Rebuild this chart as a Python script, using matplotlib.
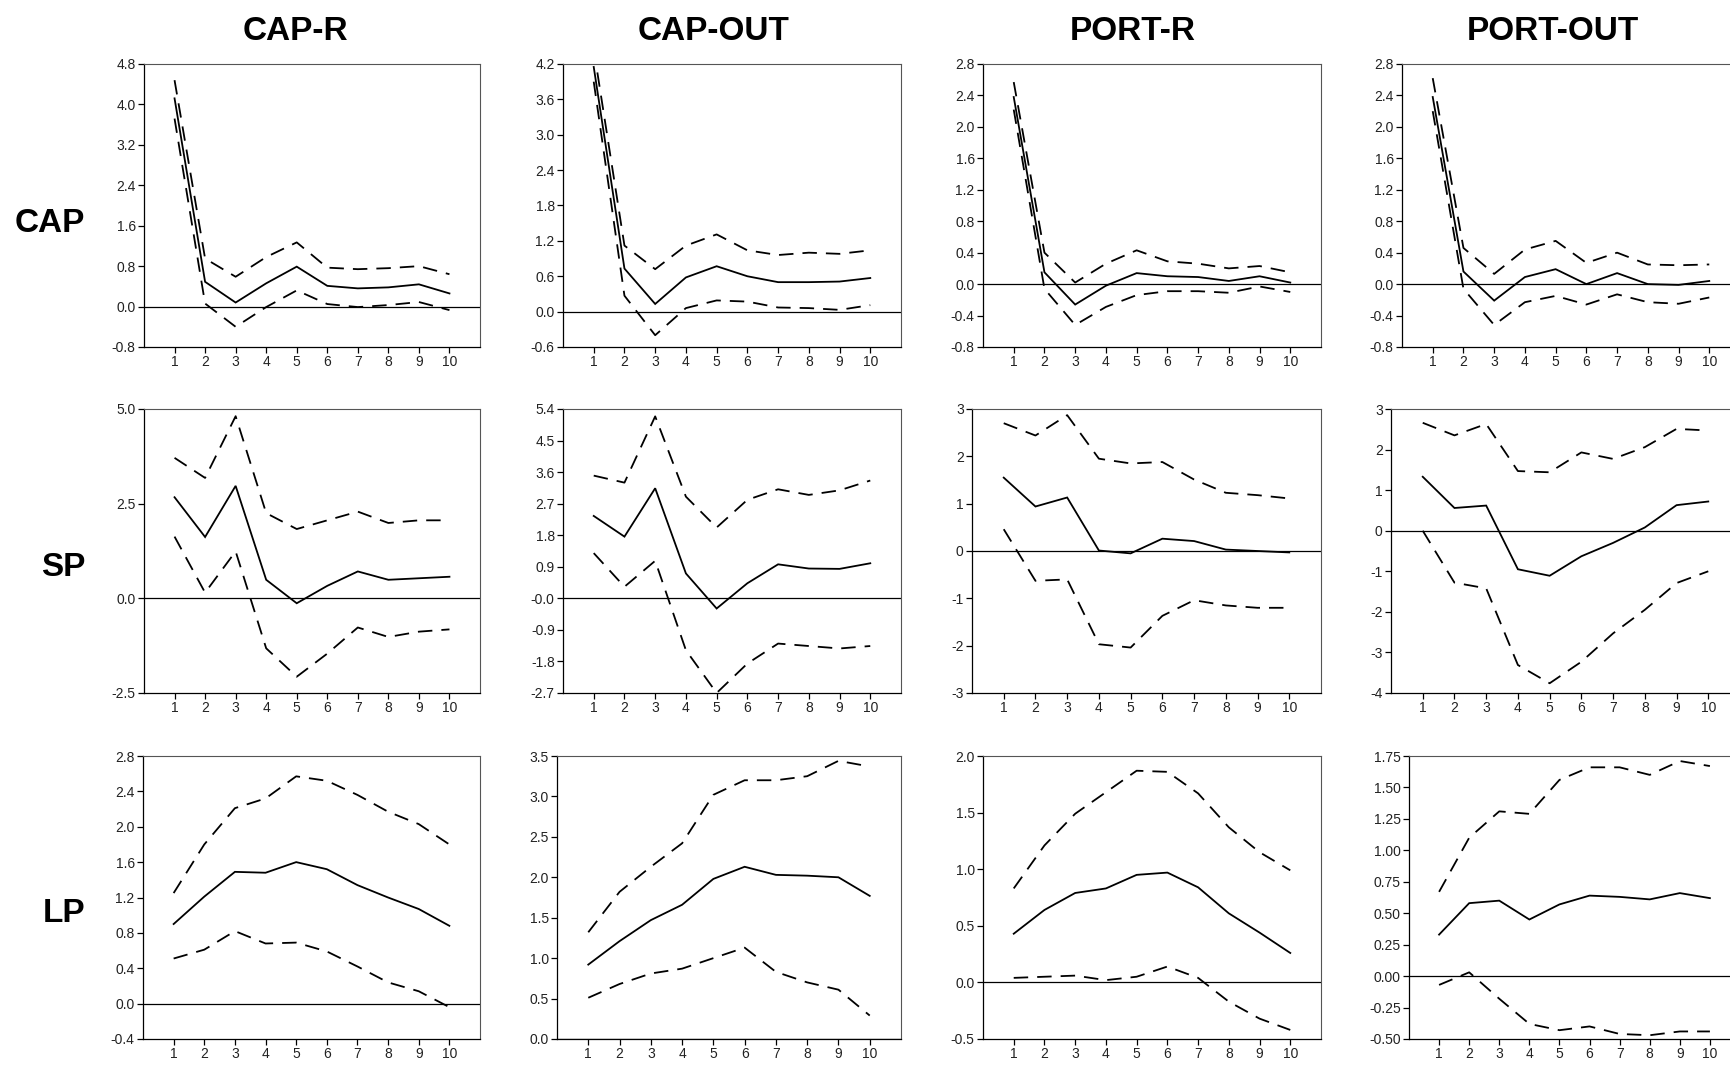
import matplotlib
matplotlib.use("Agg")
import matplotlib.pyplot as plt

plt.rcParams['font.family'] = ['Liberation Sans', 'DejaVu Sans']

horizon = [1, 2, 3, 4, 5, 6, 7, 8, 9, 10]
col_titles = ["CAP-R", "CAP-OUT", "PORT-R", "PORT-OUT"]
row_titles = ["CAP", "SP", "LP"]

# row CAP
cap_capr_irf = [4.12, 0.49, 0.08, 0.46, 0.79, 0.41, 0.36, 0.38, 0.44, 0.26]
cap_capr_hi = [4.48, 0.95, 0.59, 0.98, 1.27, 0.77, 0.74, 0.76, 0.80, 0.64]
cap_capr_lo = [3.72, 0.06, -0.40, -0.01, 0.32, 0.05, -0.01, 0.03, 0.09, -0.07]

cap_capout_irf = [4.15, 0.73, 0.13, 0.58, 0.77, 0.60, 0.50, 0.50, 0.51, 0.57]
cap_capout_hi = [4.45, 1.12, 0.72, 1.12, 1.31, 1.04, 0.96, 1.00, 0.98, 1.04]
cap_capout_lo = [3.90, 0.27, -0.40, 0.06, 0.19, 0.17, 0.07, 0.06, 0.03, 0.11]

cap_portr_irf = [2.38, 0.15, -0.26, -0.02, 0.14, 0.10, 0.09, 0.04, 0.10, 0.02]
cap_portr_hi = [2.57, 0.40, 0.02, 0.26, 0.43, 0.29, 0.26, 0.20, 0.23, 0.15]
cap_portr_lo = [2.22, -0.06, -0.52, -0.29, -0.14, -0.09, -0.09, -0.11, -0.03, -0.10]

cap_portout_irf = [2.38, 0.16, -0.21, 0.09, 0.19, 0.00, 0.14, 0.00, -0.01, 0.04]
cap_portout_hi = [2.62, 0.46, 0.13, 0.44, 0.55, 0.27, 0.40, 0.25, 0.24, 0.25]
cap_portout_lo = [2.20, -0.06, -0.52, -0.23, -0.15, -0.26, -0.13, -0.23, -0.25, -0.17]

# row SP
sp_capr_irf = [2.67, 1.62, 2.97, 0.49, -0.13, 0.33, 0.71, 0.49, 0.53, 0.57]
sp_capr_hi = [3.71, 3.18, 4.81, 2.25, 1.83, 2.06, 2.29, 1.99, 2.06, 2.06]
sp_capr_lo = [1.63, 0.15, 1.24, -1.32, -2.07, -1.46, -0.77, -1.02, -0.88, -0.82]

sp_capout_irf = [2.35, 1.76, 3.14, 0.71, -0.29, 0.43, 0.97, 0.85, 0.84, 1.00]
sp_capout_hi = [3.50, 3.30, 5.19, 2.90, 2.02, 2.81, 3.11, 2.95, 3.08, 3.36]
sp_capout_lo = [1.29, 0.33, 1.07, -1.48, -2.70, -1.86, -1.29, -1.36, -1.43, -1.36]

sp_portr_irf = [1.55, 0.94, 1.13, 0.01, -0.05, 0.26, 0.21, 0.03, 0.00, -0.03]
sp_portr_hi = [2.70, 2.44, 2.87, 1.95, 1.85, 1.88, 1.51, 1.23, 1.18, 1.11]
sp_portr_lo = [0.46, -0.63, -0.60, -1.97, -2.04, -1.37, -1.04, -1.15, -1.20, -1.20]

sp_portout_irf = [1.33, 0.56, 0.62, -0.95, -1.11, -0.63, -0.30, 0.08, 0.63, 0.72]
sp_portout_hi = [2.66, 2.35, 2.63, 1.47, 1.44, 1.93, 1.77, 2.06, 2.51, 2.47]
sp_portout_lo = [0.00, -1.28, -1.42, -3.31, -3.76, -3.23, -2.53, -1.95, -1.29, -1.00]

# row LP
lp_capr_irf = [0.90, 1.21, 1.49, 1.48, 1.60, 1.52, 1.34, 1.20, 1.07, 0.88]
lp_capr_hi = [1.25, 1.80, 2.21, 2.32, 2.57, 2.52, 2.36, 2.17, 2.03, 1.80]
lp_capr_lo = [0.51, 0.61, 0.82, 0.68, 0.69, 0.59, 0.42, 0.24, 0.14, -0.04]

lp_capout_irf = [0.92, 1.21, 1.47, 1.66, 1.98, 2.13, 2.03, 2.02, 2.00, 1.77]
lp_capout_hi = [1.32, 1.82, 2.13, 2.42, 3.02, 3.20, 3.20, 3.25, 3.44, 3.37]
lp_capout_lo = [0.51, 0.68, 0.81, 0.87, 1.00, 1.13, 0.83, 0.70, 0.61, 0.29]

lp_portr_irf = [0.43, 0.64, 0.79, 0.83, 0.95, 0.97, 0.84, 0.61, 0.44, 0.26]
lp_portr_hi = [0.83, 1.21, 1.49, 1.68, 1.87, 1.86, 1.67, 1.37, 1.15, 0.99]
lp_portr_lo = [0.04, 0.05, 0.06, 0.02, 0.05, 0.14, 0.04, -0.17, -0.32, -0.42]

lp_portout_irf = [0.33, 0.58, 0.60, 0.45, 0.57, 0.64, 0.63, 0.61, 0.66, 0.62]
lp_portout_hi = [0.67, 1.10, 1.31, 1.29, 1.56, 1.66, 1.66, 1.60, 1.71, 1.67]
lp_portout_lo = [-0.07, 0.03, -0.18, -0.38, -0.43, -0.40, -0.46, -0.47, -0.44, -0.44]

# y ticks of each panel
yt_cap_capr = [-0.8, 0.0, 0.8, 1.6, 2.4, 3.2, 4.0, 4.8]
yt_cap_capout = [-0.6, 0.0, 0.6, 1.2, 1.8, 2.4, 3.0, 3.6, 4.2]
yt_cap_port = [-0.8, -0.4, 0.0, 0.4, 0.8, 1.2, 1.6, 2.0, 2.4, 2.8]
yt_sp_capr = [-2.5, 0.0, 2.5, 5.0]
yt_sp_capout = [-2.7, -1.8, -0.9, 0.0, 0.9, 1.8, 2.7, 3.6, 4.5, 5.4]
yt_sp_portr = [-3, -2, -1, 0, 1, 2, 3]
yt_sp_portout = [-4, -3, -2, -1, 0, 1, 2, 3]
yt_lp_capr = [-0.4, 0.0, 0.4, 0.8, 1.2, 1.6, 2.0, 2.4, 2.8]
yt_lp_capout = [0.0, 0.5, 1.0, 1.5, 2.0, 2.5, 3.0, 3.5]
yt_lp_portr = [-0.5, 0.0, 0.5, 1.0, 1.5, 2.0]
yt_lp_portout = [-0.50, -0.25, 0.00, 0.25, 0.50, 0.75, 1.00, 1.25, 1.50, 1.75]

panels = [
    [(cap_capr_irf, cap_capr_lo, cap_capr_hi, yt_cap_capr, "%.1f"),
     (cap_capout_irf, cap_capout_lo, cap_capout_hi, yt_cap_capout, "%.1f"),
     (cap_portr_irf, cap_portr_lo, cap_portr_hi, yt_cap_port, "%.1f"),
     (cap_portout_irf, cap_portout_lo, cap_portout_hi, yt_cap_port, "%.1f")],
    [(sp_capr_irf, sp_capr_lo, sp_capr_hi, yt_sp_capr, "%.1f"),
     (sp_capout_irf, sp_capout_lo, sp_capout_hi, yt_sp_capout, "%.1f"),
     (sp_portr_irf, sp_portr_lo, sp_portr_hi, yt_sp_portr, "%d"),
     (sp_portout_irf, sp_portout_lo, sp_portout_hi, yt_sp_portout, "%d")],
    [(lp_capr_irf, lp_capr_lo, lp_capr_hi, yt_lp_capr, "%.1f"),
     (lp_capout_irf, lp_capout_lo, lp_capout_hi, yt_lp_capout, "%.1f"),
     (lp_portr_irf, lp_portr_lo, lp_portr_hi, yt_lp_portr, "%.1f"),
     (lp_portout_irf, lp_portout_lo, lp_portout_hi, yt_lp_portout, "%.2f")],
]

W, H = 1731, 1066
# panel frames in pixels: (left, right) per column, (top, bottom) per row
row_tb = [(64, 347), (409, 693), (756, 1039)]
col_lr = [
    [(144, 480), (563, 901), (983, 1321), (1402, 1740)],
    [(144, 480), (563, 901), (972, 1321), (1391, 1740)],
    [(143, 480), (557, 901), (983, 1321), (1409, 1740)],
]
title_x = [295, 714, 1133, 1553]
row_label_y = [223, 567, 914]

fig = plt.figure(figsize=(W / 100, H / 100), dpi=100)

for r in range(3):
    top, bot = row_tb[r]
    for c in range(4):
        left, right = col_lr[r][c]
        ax = fig.add_axes([left / W, 1 - bot / H, (right - left) / W, (bot - top) / H])
        irf, lo, hi, yt, fmt = panels[r][c]
        ax.axhline(0, color="black", lw=0.9, zorder=1)
        ax.plot(horizon, irf, color="black", lw=1.3, solid_joinstyle="miter")
        ax.plot(horizon, hi, color="black", lw=1.3, dashes=(8, 5))
        ax.plot(horizon, lo, color="black", lw=1.3, dashes=(8, 5))
        ax.set_xlim(0, 11)
        ax.set_ylim(yt[0], yt[-1])
        ax.set_xticks(horizon)
        ax.set_yticks(yt)
        if r == 1 and c == 1:
            ax.set_yticklabels(["-0.0" if v == 0 else "%.1f" % v for v in yt])
        else:
            ax.set_yticklabels([fmt % v for v in yt])
        ax.tick_params(direction="out", length=4, width=0.9, labelsize=10,
                       colors="black", labelcolor="#222222", pad=2)
        for s in ["left", "bottom"]:
            ax.spines[s].set_color("black")
            ax.spines[s].set_linewidth(0.9)
        for s in ["top", "right"]:
            ax.spines[s].set_color("#555555")
            ax.spines[s].set_linewidth(0.8)

for c in range(4):
    fig.text(title_x[c] / W, 1 - 31 / H, col_titles[c], ha="center", va="center",
             fontsize=24, fontweight="bold")
for r in range(3):
    fig.text(85 / W, 1 - row_label_y[r] / H, row_titles[r], ha="right", va="center",
             fontsize=24, fontweight="bold")

fig.savefig("out.png", dpi=100)
